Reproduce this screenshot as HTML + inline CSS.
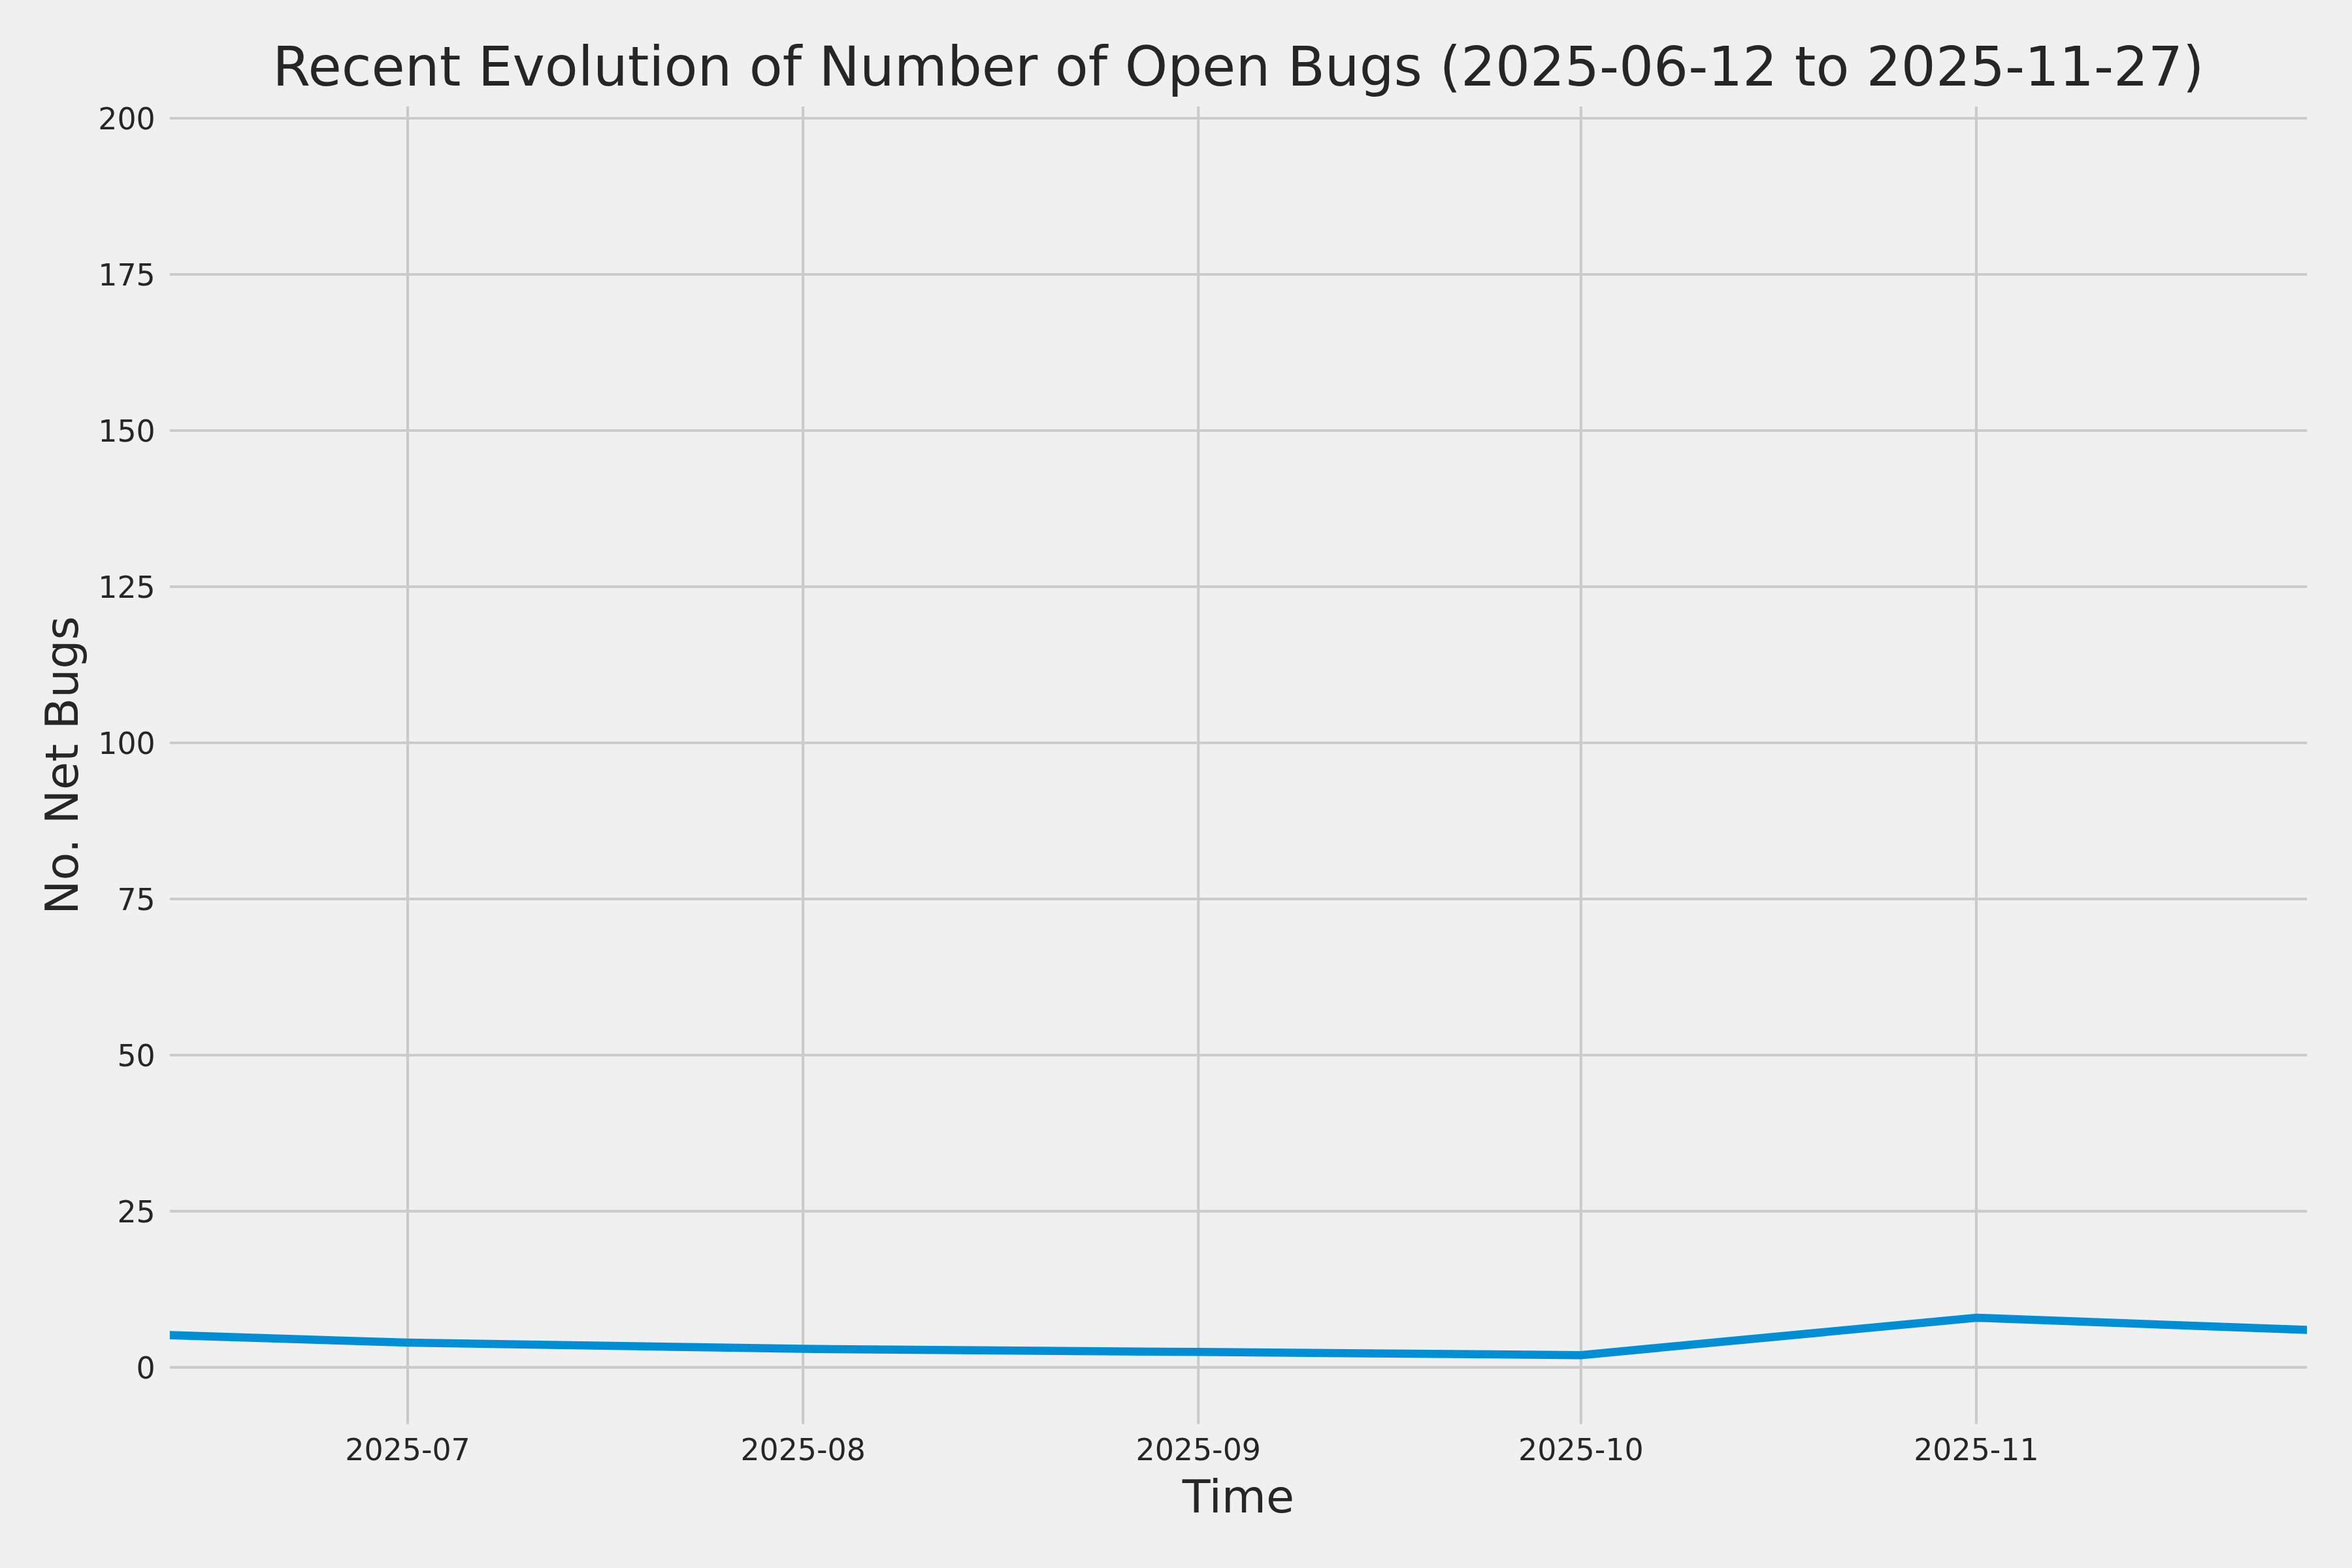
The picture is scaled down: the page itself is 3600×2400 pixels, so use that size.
<!DOCTYPE html>
<html><head><meta charset="utf-8"><title>Recent Evolution of Number of Open Bugs</title>
<style>html,body{margin:0;padding:0;background:#f0f0f0;width:3600px;height:2400px;overflow:hidden}svg{display:block;will-change:transform}</style>
</head><body>
<svg width="3600" height="2400" viewBox="0 0 864 576" version="1.1">
 <defs>
  <style type="text/css">*{stroke-linejoin: round; stroke-linecap: butt}</style>
 </defs>
 <g id="figure_1">
  <g id="patch_1">
   <path d="M 0 576 L 864 576 L 864 0 L 0 0 z
" style="fill: #f0f0f0"/>
  </g>
  <g id="axes_1">
   <g id="patch_2">
    <path d="M 60.8664 524.652 L 848.964 524.652 L 848.964 37.596 L 60.8664 37.596 z
" style="fill: #f0f0f0"/>
   </g>
   <g id="matplotlib.axis_1">
    <g id="xtick_1">
     <g id="line2d_1">
      <path d="M 149.760155 524.652 L 149.760155 37.596 " clip-path="url(#p6b715c0a5c)" style="fill: none; stroke: #cbcbcb"/>
     </g>
     <g id="text_1">
      <text style="font-size: 11px; font-family: 'DejaVu Sans', 'Liberation Sans', sans-serif; text-anchor: middle; fill: #262626" x="149.760155" y="536.510281" transform="rotate(-0 149.760155 536.510281)">2025-07</text>
     </g>
    </g>
    <g id="xtick_2">
     <g id="line2d_2">
      <path d="M 294.988424 524.652 L 294.988424 37.596 " clip-path="url(#p6b715c0a5c)" style="fill: none; stroke: #cbcbcb"/>
     </g>
     <g id="text_2">
      <text style="font-size: 11px; font-family: 'DejaVu Sans', 'Liberation Sans', sans-serif; text-anchor: middle; fill: #262626" x="294.988424" y="536.510281" transform="rotate(-0 294.988424 536.510281)">2025-08</text>
     </g>
    </g>
    <g id="xtick_3">
     <g id="line2d_3">
      <path d="M 440.216694 524.652 L 440.216694 37.596 " clip-path="url(#p6b715c0a5c)" style="fill: none; stroke: #cbcbcb"/>
     </g>
     <g id="text_3">
      <text style="font-size: 11px; font-family: 'DejaVu Sans', 'Liberation Sans', sans-serif; text-anchor: middle; fill: #262626" x="440.216694" y="536.510281" transform="rotate(-0 440.216694 536.510281)">2025-09</text>
     </g>
    </g>
    <g id="xtick_4">
     <g id="line2d_4">
      <path d="M 580.76018 524.652 L 580.76018 37.596 " clip-path="url(#p6b715c0a5c)" style="fill: none; stroke: #cbcbcb"/>
     </g>
     <g id="text_4">
      <text style="font-size: 11px; font-family: 'DejaVu Sans', 'Liberation Sans', sans-serif; text-anchor: middle; fill: #262626" x="580.76018" y="536.510281" transform="rotate(-0 580.76018 536.510281)">2025-10</text>
     </g>
    </g>
    <g id="xtick_5">
     <g id="line2d_5">
      <path d="M 725.988449 524.652 L 725.988449 37.596 " clip-path="url(#p6b715c0a5c)" style="fill: none; stroke: #cbcbcb"/>
     </g>
     <g id="text_5">
      <text style="font-size: 11px; font-family: 'DejaVu Sans', 'Liberation Sans', sans-serif; text-anchor: middle; fill: #262626" x="725.988449" y="536.510281" transform="rotate(-0 725.988449 536.510281)">2025-11</text>
     </g>
    </g>
    <g id="text_6">
     <text style="font-size: 16.8px; font-family: 'DejaVu Sans', 'Liberation Sans', sans-serif; text-anchor: middle; fill: #262626" x="454.9152" y="555.563313" transform="rotate(-0 454.9152 555.563313)">Time</text>
    </g>
   </g>
   <g id="matplotlib.axis_2">
    <g id="ytick_1">
     <g id="line2d_6">
      <path d="M 60.8664 502.307435 L 848.964 502.307435 " clip-path="url(#p6b715c0a5c)" style="fill: none; stroke: #cbcbcb"/>
     </g>
     <g id="text_7">
      <text style="font-size: 11px; font-family: 'DejaVu Sans', 'Liberation Sans', sans-serif; text-anchor: end; fill: #262626" x="57.0664" y="506.486575" transform="rotate(-0 57.0664 506.486575)">0</text>
     </g>
    </g>
    <g id="ytick_2">
     <g id="line2d_7">
      <path d="M 60.8664 444.948965 L 848.964 444.948965 " clip-path="url(#p6b715c0a5c)" style="fill: none; stroke: #cbcbcb"/>
     </g>
     <g id="text_8">
      <text style="font-size: 11px; font-family: 'DejaVu Sans', 'Liberation Sans', sans-serif; text-anchor: end; fill: #262626" x="57.0664" y="449.128106" transform="rotate(-0 57.0664 449.128106)">25</text>
     </g>
    </g>
    <g id="ytick_3">
     <g id="line2d_8">
      <path d="M 60.8664 387.590496 L 848.964 387.590496 " clip-path="url(#p6b715c0a5c)" style="fill: none; stroke: #cbcbcb"/>
     </g>
     <g id="text_9">
      <text style="font-size: 11px; font-family: 'DejaVu Sans', 'Liberation Sans', sans-serif; text-anchor: end; fill: #262626" x="57.0664" y="391.769637" transform="rotate(-0 57.0664 391.769637)">50</text>
     </g>
    </g>
    <g id="ytick_4">
     <g id="line2d_9">
      <path d="M 60.8664 330.232027 L 848.964 330.232027 " clip-path="url(#p6b715c0a5c)" style="fill: none; stroke: #cbcbcb"/>
     </g>
     <g id="text_10">
      <text style="font-size: 11px; font-family: 'DejaVu Sans', 'Liberation Sans', sans-serif; text-anchor: end; fill: #262626" x="57.0664" y="334.411168" transform="rotate(-0 57.0664 334.411168)">75</text>
     </g>
    </g>
    <g id="ytick_5">
     <g id="line2d_10">
      <path d="M 60.8664 272.873558 L 848.964 272.873558 " clip-path="url(#p6b715c0a5c)" style="fill: none; stroke: #cbcbcb"/>
     </g>
     <g id="text_11">
      <text style="font-size: 11px; font-family: 'DejaVu Sans', 'Liberation Sans', sans-serif; text-anchor: end; fill: #262626" x="57.0664" y="277.052698" transform="rotate(-0 57.0664 277.052698)">100</text>
     </g>
    </g>
    <g id="ytick_6">
     <g id="line2d_11">
      <path d="M 60.8664 215.515089 L 848.964 215.515089 " clip-path="url(#p6b715c0a5c)" style="fill: none; stroke: #cbcbcb"/>
     </g>
     <g id="text_12">
      <text style="font-size: 11px; font-family: 'DejaVu Sans', 'Liberation Sans', sans-serif; text-anchor: end; fill: #262626" x="57.0664" y="219.694229" transform="rotate(-0 57.0664 219.694229)">125</text>
     </g>
    </g>
    <g id="ytick_7">
     <g id="line2d_12">
      <path d="M 60.8664 158.156619 L 848.964 158.156619 " clip-path="url(#p6b715c0a5c)" style="fill: none; stroke: #cbcbcb"/>
     </g>
     <g id="text_13">
      <text style="font-size: 11px; font-family: 'DejaVu Sans', 'Liberation Sans', sans-serif; text-anchor: end; fill: #262626" x="57.0664" y="162.33576" transform="rotate(-0 57.0664 162.33576)">150</text>
     </g>
    </g>
    <g id="ytick_8">
     <g id="line2d_13">
      <path d="M 60.8664 100.79815 L 848.964 100.79815 " clip-path="url(#p6b715c0a5c)" style="fill: none; stroke: #cbcbcb"/>
     </g>
     <g id="text_14">
      <text style="font-size: 11px; font-family: 'DejaVu Sans', 'Liberation Sans', sans-serif; text-anchor: end; fill: #262626" x="57.0664" y="104.977291" transform="rotate(-0 57.0664 104.977291)">175</text>
     </g>
    </g>
    <g id="ytick_9">
     <g id="line2d_14">
      <path d="M 60.8664 43.439681 L 848.964 43.439681 " clip-path="url(#p6b715c0a5c)" style="fill: none; stroke: #cbcbcb"/>
     </g>
     <g id="text_15">
      <text style="font-size: 11px; font-family: 'DejaVu Sans', 'Liberation Sans', sans-serif; text-anchor: end; fill: #262626" x="57.0664" y="47.618821" transform="rotate(-0 57.0664 47.618821)">200</text>
     </g>
    </g>
    <g id="text_16">
     <text style="font-size: 16.8px; font-family: 'DejaVu Sans', 'Liberation Sans', sans-serif; text-anchor: middle; fill: #262626" x="28.576275" y="281.124" transform="rotate(-90 28.576275 281.124)">No. Net Bugs</text>
    </g>
   </g>
   <g id="line2d_15">
    <path d="M 9.216669 488.770836 L 149.760155 493.221853 L 294.988424 495.493249 L 440.216694 496.640418 L 580.76018 497.810531 L 725.988449 484.067442 L 848.964 488.587289 " clip-path="url(#p6b715c0a5c)" style="fill: none; stroke: #008fd5; stroke-width: 3"/>
   </g>
   <g id="patch_3">
    <path d="M 60.8664 524.652 L 60.8664 37.596 " style="fill: none; stroke: #f0f0f0; stroke-width: 3; stroke-linejoin: miter; stroke-linecap: square"/>
   </g>
   <g id="patch_4">
    <path d="M 848.964 524.652 L 848.964 37.596 " style="fill: none; stroke: #f0f0f0; stroke-width: 3; stroke-linejoin: miter; stroke-linecap: square"/>
   </g>
   <g id="patch_5">
    <path d="M 60.8664 524.652 L 848.964 524.652 " style="fill: none; stroke: #f0f0f0; stroke-width: 3; stroke-linejoin: miter; stroke-linecap: square"/>
   </g>
   <g id="patch_6">
    <path d="M 60.8664 37.596 L 848.964 37.596 " style="fill: none; stroke: #f0f0f0; stroke-width: 3; stroke-linejoin: miter; stroke-linecap: square"/>
   </g>
   <g id="text_17">
    <text style="font-size: 20px; font-family: 'DejaVu Sans', 'Liberation Sans', sans-serif; text-anchor: middle; fill: #262626" x="454.9152" y="31.376" transform="rotate(-0 454.9152 31.376)">Recent Evolution of Number of Open Bugs (2025-06-12 to 2025-11-27)</text>
   </g>
  </g>
 </g>
 <defs>
  <clipPath id="p6b715c0a5c">
   <rect x="60.8664" y="37.596" width="788.0976" height="487.056"/>
  </clipPath>
 </defs>
</svg>

</body></html>
